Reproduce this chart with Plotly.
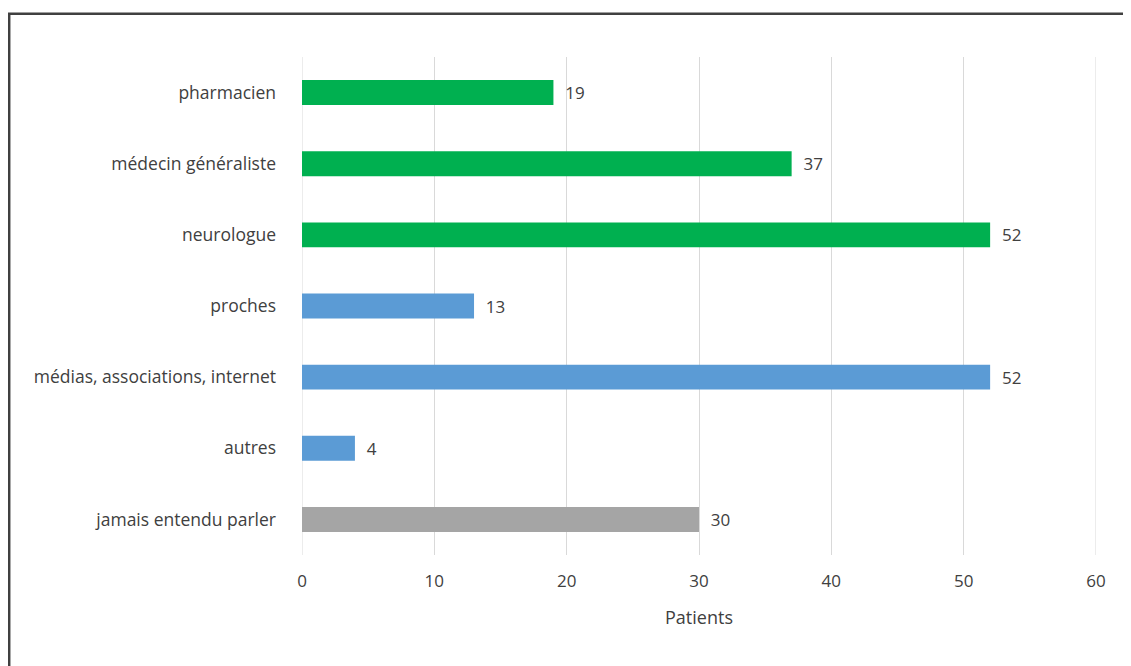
import plotly.graph_objects as go

categories = ["pharmacien", "médecin généraliste", "neurologue", "proches",
              "médias, associations, internet", "autres", "jamais entendu parler"]
values = [19, 37, 52, 13, 52, 4, 30]
colors = ["#00B050", "#00B050", "#00B050", "#5B9BD5", "#5B9BD5", "#5B9BD5", "#A5A5A5"]
x_ticks = [0, 10, 20, 30, 40, 50, 60]
x_title = "Patients"

# page is rendered with an 8px body offset; figure coords = page coords - 8
W, H = 1123, 658
L, R, T, B = 294, 35, 49, 111
pw, ph = W - L - R, H - T - B

def px_x(p):
    return (p - L) / pw

def px_y(p):
    return (H - B - p) / ph

GRID = "#D9D9D9"

fig = go.Figure()
fig.add_trace(go.Bar(
    y=categories, x=values, orientation="h",
    marker=dict(color=colors, line=dict(width=0)),
    text=[f"  {v}" for v in values], textposition="outside",
    textfont=dict(size=17, color="#404040", family="Open Sans"),
    cliponaxis=False, hoverinfo="x+y",
))

# gridlines at the range edges (plotly hides them at the plot border)
edge_lines = [dict(type="line", xref="x", yref="paper", x0=v, x1=v, y0=0, y1=1,
                   line=dict(color=GRID, width=1), layer="below")
              for v in (x_ticks[0], x_ticks[-1])]

border = dict(type="rect", xref="paper", yref="paper",
              x0=px_x(1.2), x1=px_x(1140), y0=px_y(5.8), y1=px_y(680),
              line=dict(color="#404040", width=2.5), fillcolor="rgba(0,0,0,0)",
              layer="below")

fig.update_layout(
    width=W, height=H,
    margin=dict(l=L, r=R, t=T, b=B, pad=0),
    paper_bgcolor="white", plot_bgcolor="white",
    bargap=0.65, showlegend=False,
    font=dict(family="Open Sans", size=17, color="#404040"),
    xaxis=dict(range=[x_ticks[0], x_ticks[-1]], tickvals=x_ticks, showgrid=True, gridcolor=GRID,
               gridwidth=1, zeroline=False, showline=False, ticks="",
               tickfont=dict(size=17), ticklabelstandoff=14,
               title=dict(text=x_title, font=dict(size=18), standoff=20)),
    yaxis=dict(categoryorder="array", categoryarray=categories[::-1],
               autorange=True, showgrid=False, zeroline=False, showline=False,
               ticks="", ticklabelstandoff=25, tickfont=dict(size=17.5)),
    shapes=edge_lines + [border],
)

fig.write_html("out.html")
